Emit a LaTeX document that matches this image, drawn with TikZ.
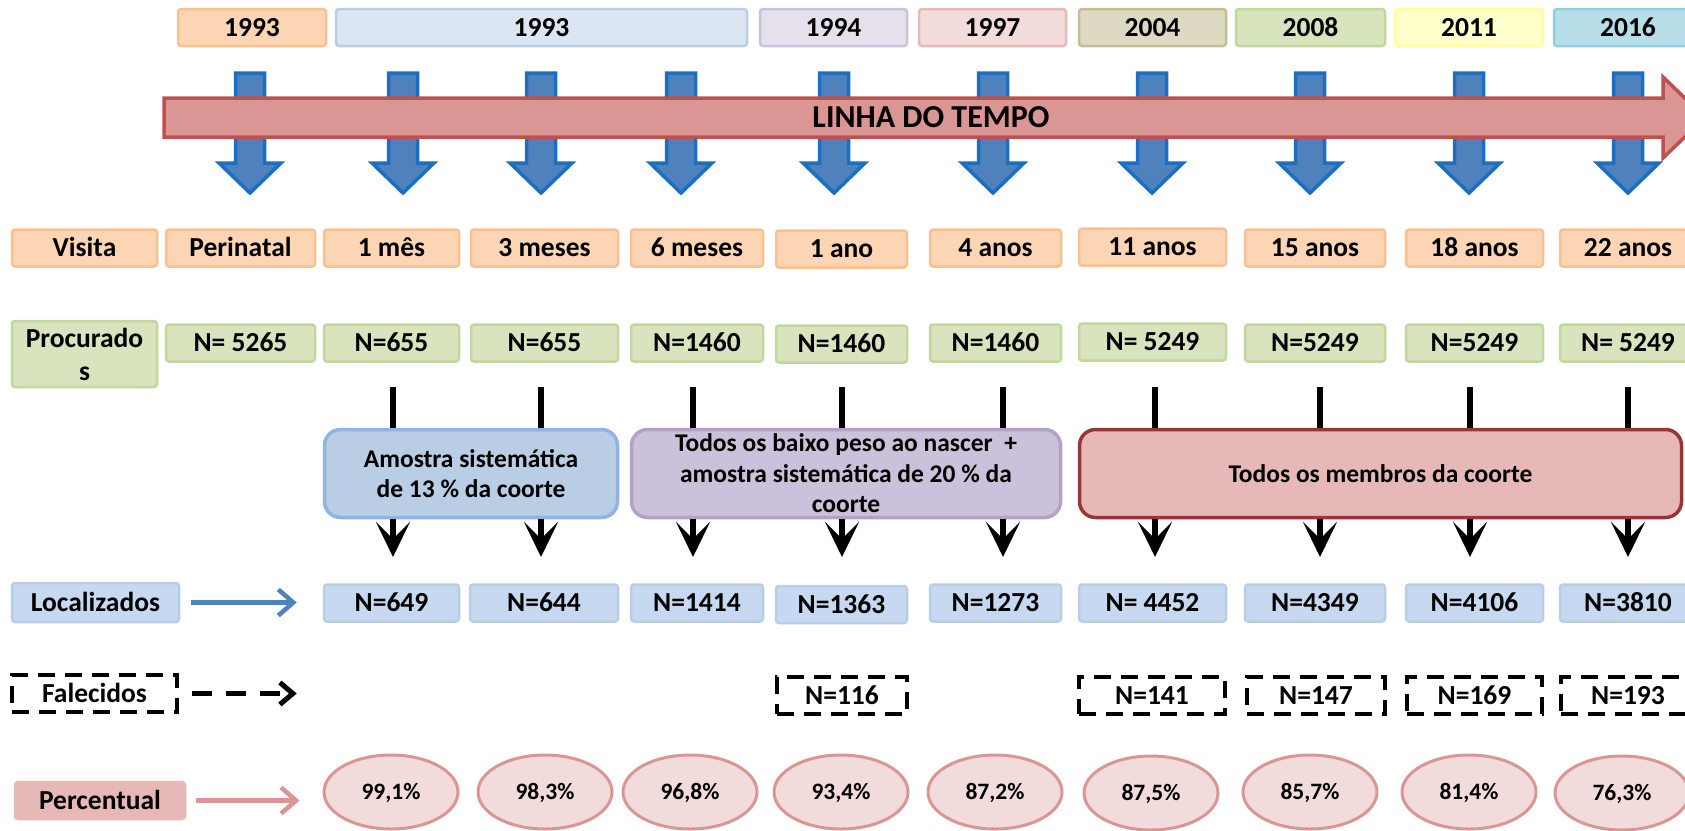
\documentclass[tikz,border=0pt]{standalone}
\usepackage{fontspec}
\setmainfont{Carlito}
\usetikzlibrary{arrows.meta,shapes.geometric}

% palette
\definecolor{orFill}{HTML}{FCD5B5}\definecolor{orLine}{HTML}{FAC090}
\definecolor{grFill}{HTML}{D7E4BD}\definecolor{grLine}{HTML}{C3D69B}
\definecolor{blFill}{HTML}{C6D9F1}\definecolor{blLine}{HTML}{B9CDE5}
\definecolor{ltBlFill}{HTML}{DCE6F2}\definecolor{ltBlLine}{HTML}{B9CDE5}
\definecolor{puFill}{HTML}{E6E0EC}\definecolor{puLine}{HTML}{CCC1DA}
\definecolor{pkFill}{HTML}{F2DCDB}\definecolor{pkLine}{HTML}{E6B9B8}
\definecolor{taFill}{HTML}{DDD9C3}\definecolor{taLine}{HTML}{C4BD97}
\definecolor{yeFill}{HTML}{FFFFCC}\definecolor{yeLine}{HTML}{FFFF99}
\definecolor{aqFill}{HTML}{B7DEE8}\definecolor{aqLine}{HTML}{93CDDD}
\definecolor{ovFill}{HTML}{F2DCDB}\definecolor{ovLine}{HTML}{D99694}
\definecolor{rose}{HTML}{E6B9B8}
\definecolor{gBlueFill}{HTML}{B9CDE5}\definecolor{gBlueLine}{HTML}{8EB4E3}
\definecolor{gPurFill}{HTML}{CCC1DA}\definecolor{gPurLine}{HTML}{B3A2C7}
\definecolor{gRedFill}{HTML}{E6B9B8}\definecolor{gRedLine}{HTML}{953735}
\definecolor{barFill}{HTML}{D99694}\definecolor{barLine}{HTML}{C0504D}
\definecolor{arrFill}{HTML}{4F81BD}\definecolor{arrLine}{HTML}{1A6FC4}

\tikzset{
  cell/.style={draw, line width=2.5pt, rounded corners=3pt, inner sep=0pt,
    minimum height=37pt, text height=17.6pt, text depth=0pt,
    font=\bfseries\fontsize{27.5}{33}\selectfont},
  yearbox/.style={cell},
  visit/.style={cell, fill=orFill, draw=orLine},
  sought/.style={cell, fill=grFill, draw=grLine},
  found/.style={cell, fill=blFill, draw=blLine},
  dead/.style={cell, draw=black, line width=4pt, rounded corners=0pt,
    dash pattern=on 17pt off 10pt},
  pct/.style={ellipse, draw=ovLine, fill=ovFill, line width=3pt,
    minimum width=134pt, minimum height=74pt, inner sep=0pt,
    text height=15pt, text depth=0pt,
    font=\bfseries\fontsize{23.5}{28}\selectfont},
  group/.style={draw, line width=3.5pt, rounded corners=16pt, align=center,
    inner sep=0pt, minimum height=88pt,
    font=\bfseries\fontsize{25.5}{30.5}\selectfont},
  feed/.style={line width=6.5pt, black},
  drop/.style={line width=6.5pt, black,
    -{Stealth[length=35pt,width=34pt,inset=17pt]}},
  sidelink/.style={line width=4.5pt, -{Straight Barb[length=15pt,width=26pt]}},
  blockdown/.style={fill=arrFill, draw=arrLine, line width=3.5pt},
  timebar/.style={fill=barFill, draw=barLine, line width=3.5pt},
}

\begin{document}
\begin{tikzpicture}[x=1pt, y=-1pt]
\useasboundingbox (0,0) rectangle (1685,830);
\clip (0,0) rectangle (1685,830);

% ---- years of each follow-up
\node[yearbox, fill=orFill,   draw=orLine,   minimum width=148] (y1) at (252,27.5)   {1993};
\node[yearbox, fill=ltBlFill, draw=ltBlLine, minimum width=411] (y2) at (541.5,27.5) {1993};
\node[yearbox, fill=puFill,   draw=puLine,   minimum width=147] (y3) at (833.5,27.5) {1994};
\node[yearbox, fill=pkFill,   draw=pkLine,   minimum width=147] (y4) at (992.5,27.5) {1997};
\node[yearbox, fill=taFill,   draw=taLine,   minimum width=147] (y5) at (1152.5,27.5) {2004};
\node[yearbox, fill=grFill,   draw=grLine,   minimum width=149] (y6) at (1310.5,27.5) {2008};
\node[yearbox, fill=yeFill,   draw=yeLine,   minimum width=148] (y7) at (1469,27.5)  {2011};
\node[yearbox, fill=aqFill,   draw=aqLine,   minimum width=148] (y8) at (1628,27.5)  {2016};

% ---- block arrows crossing the time line
\foreach \x in {250,403,541,681,834,993,1152,1310,1469,1628}{
  \draw[blockdown] (\x-14.5,73) -- (\x+14.5,73) -- (\x+14.5,163) -- (\x+31,163)
    -- (\x,193) -- (\x-31,163) -- (\x-14.5,163) -- cycle;
}

% ---- time line
\draw[timebar] (164,98) -- (1663,98) -- (1663,77) -- (1705,117.5) -- (1663,158)
  -- (1663,137) -- (164,137) -- cycle;
\node[font=\bfseries\fontsize{32}{38}\selectfont, text height=20.6pt, text depth=0pt,
  inner sep=0pt] (timeline) at (931,117.5) {LINHA DO TEMPO};

% ---- visits
\node[visit, minimum width=145] (v0)  at (84.5,248)  {Visita};
\node[visit, minimum width=149] (v1)  at (240.5,248) {Perinatal};
\node[visit, minimum width=135] (v2)  at (391.5,248) {1 mês};
\node[visit, minimum width=147] (v3)  at (544.5,248) {3 meses};
\node[visit, minimum width=132] (v4)  at (697,248)   {6 meses};
\node[visit, minimum width=131] (v5)  at (841.5,249) {1 ano};
\node[visit, minimum width=131] (v6)  at (995.5,248) {4 anos};
\node[visit, minimum width=147] (v7)  at (1152.5,247) {11 anos};
\node[visit, minimum width=140] (v8)  at (1315,248)  {15 anos};
\node[visit, minimum width=137] (v9)  at (1474.5,248) {18 anos};
\node[visit, minimum width=136] (v10) at (1628,248)  {22 anos};

% ---- sought
\node[cell, fill=grFill, draw=grLine, minimum width=145, minimum height=66,
  text height=, text depth=, align=center] (p0) at (84.5,354) {Procurado\\s};
\node[sought, minimum width=149] (p1)  at (240.5,343) {N= 5265};
\node[sought, minimum width=135] (p2)  at (391.5,343) {N=655};
\node[sought, minimum width=147] (p3)  at (544.5,343) {N=655};
\node[sought, minimum width=132] (p4)  at (697,343)   {N=1460};
\node[sought, minimum width=131] (p5)  at (841.5,344) {N=1460};
\node[sought, minimum width=131] (p6)  at (995.5,343) {N=1460};
\node[sought, minimum width=147] (p7)  at (1152.5,342) {N= 5249};
\node[sought, minimum width=140] (p8)  at (1315,343)  {N=5249};
\node[sought, minimum width=137] (p9)  at (1474.5,343) {N=5249};
\node[sought, minimum width=136] (p10) at (1628,343)  {N= 5249};

% ---- sampling groups
\node[group, fill=gBlueFill, draw=gBlueLine, minimum width=293] (gA) at (471,473.5)
  {Amostra sistemática\\de 13 \% da coorte};
\node[group, fill=gPurFill, draw=gPurLine, minimum width=429] (gB) at (846,473.5)
  {Todos os baixo peso ao nascer~~+\\amostra sistemática de 20 \% da\\coorte};
\node[group, fill=gRedFill, draw=gRedLine, minimum width=602] (gC) at (1380.5,473.5)
  {Todos os membros da coorte};

% ---- feeds into and out of the groups
\coordinate (t2) at (393,387);  \coordinate (t3) at (541,387);
\coordinate (t4) at (693,387);  \coordinate (t5) at (842,387);
\coordinate (t6) at (1003,387); \coordinate (t7) at (1155,387);
\coordinate (t8) at (1320,387); \coordinate (t9) at (1470,387);
\coordinate (t10) at (1628,387);
\foreach \t/\g in {t2/gA,t3/gA,t4/gB,t5/gB,t6/gB,t7/gC,t8/gC,t9/gC,t10/gC}{
  \draw[feed] (\t) -- (\t |- \g.north);
  \coordinate (\t-tip) at ([yshift=-170pt]\t);
  \draw[drop] (\t |- \g.south) -- (\t-tip);
}

% ---- located
\node[cell, fill=blFill, draw=blLine, minimum width=167, minimum height=39] (loc) at (95.5,602.5) {Localizados};
\node[found, minimum width=135] (l2)  at (391.5,603) {N=649};
\node[found, minimum width=148] (l3)  at (544,603)   {N=644};
\node[found, minimum width=132] (l4)  at (697,603)   {N=1414};
\node[found, minimum width=131] (l5)  at (841.5,604.5) {N=1363};
\node[found, minimum width=131] (l6)  at (995.5,603) {N=1273};
\node[found, minimum width=147] (l7)  at (1152.5,603) {N= 4452};
\node[found, minimum width=140] (l8)  at (1315,603)  {N=4349};
\node[found, minimum width=137] (l9)  at (1474.5,603) {N=4106};
\node[found, minimum width=136] (l10) at (1628,603)  {N=3810};
\draw[sidelink, arrFill, shorten <=11pt, shorten >=26pt] (loc.east) -- (loc.east -| l2.west);

% ---- deceased
\node[dead, minimum width=165] (fal) at (94.5,693.5) {Falecidos};
\node[dead, minimum width=130] (f5)  at (842,695.5)  {N=116};
\node[dead, minimum width=146] (f7)  at (1152,695.5) {N=141};
\node[dead, minimum width=138] (f8)  at (1316,695.5) {N=147};
\node[dead, minimum width=135] (f9)  at (1474.5,695.5) {N=169};
\node[dead, minimum width=135] (f10) at (1628,695.5) {N=193};
\draw[sidelink, black, line width=5pt, dash pattern=on 20pt off 14pt,
  -{Straight Barb[length=13pt,width=22pt]},
  shorten <=13pt, shorten >=26pt] (fal.east) -- (fal.east -| l2.west);

% ---- percentages
\node[cell, fill=rose, draw=rose, minimum width=170, minimum height=37] (pc) at (100,800.5) {Percentual};
\node[pct] (e2)  at (391,792)  {99,1\%};
\node[pct] (e3)  at (545,792)  {98,3\%};
\node[pct] (e4)  at (690,792)  {96,8\%};
\node[pct] (e5)  at (841,792)  {93,4\%};
\node[pct] (e6)  at (995,792)  {87,2\%};
\node[pct] (e7)  at (1151,793) {87,5\%};
\node[pct] (e8)  at (1310,792) {85,7\%};
\node[pct] (e9)  at (1469,792) {81,4\%};
\node[pct] (e10) at (1622,793) {76,3\%};
\draw[sidelink, ovLine, shorten <=10pt, shorten >=23pt] (pc.east) -- (pc.east -| e2.west);
\end{tikzpicture}
\end{document}
